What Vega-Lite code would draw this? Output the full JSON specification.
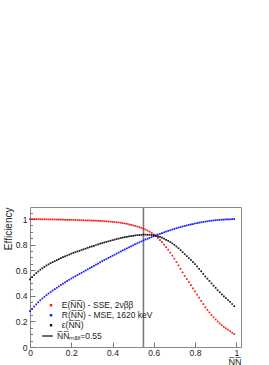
{
  "$schema": "https://vega.github.io/schema/vega-lite/v6.json",
  "autosize": "none",
  "padding": {"left": 30, "top": 207, "right": 28, "bottom": 18},
  "width": 211,
  "height": 140,
  "background": "white",
  "config": {
    "view": {"stroke": "#8a8a8a", "strokeWidth": 1},
    "axis": {"domain": false, "grid": false, "labelFont": "Liberation Sans", "labelFontSize": 8.5, "labelColor": "#222", "tickColor": "#777", "tickWidth": 1, "titleFont": "Liberation Sans", "titleFontSize": 10, "titleFontWeight": "normal", "titleColor": "#222", "labelFlush": false, "labelOverlap": false},
    "legend": {"labelFont": "Liberation Sans", "labelFontSize": 8.5, "labelColor": "#222", "rowPadding": 1, "padding": 0}
  },
  "datasets": {
    "curves": [
      {"NN":0.00,"curve":"E","eff":1.000},{"NN":0.01,"curve":"E","eff":1.000},{"NN":0.02,"curve":"E","eff":0.999},{"NN":0.03,"curve":"E","eff":0.999},{"NN":0.04,"curve":"E","eff":0.999},{"NN":0.05,"curve":"E","eff":0.999},{"NN":0.06,"curve":"E","eff":0.998},{"NN":0.07,"curve":"E","eff":0.998},{"NN":0.08,"curve":"E","eff":0.998},{"NN":0.09,"curve":"E","eff":0.997},
      {"NN":0.10,"curve":"E","eff":0.997},{"NN":0.11,"curve":"E","eff":0.997},{"NN":0.12,"curve":"E","eff":0.996},{"NN":0.13,"curve":"E","eff":0.996},{"NN":0.14,"curve":"E","eff":0.996},{"NN":0.15,"curve":"E","eff":0.995},{"NN":0.16,"curve":"E","eff":0.995},{"NN":0.17,"curve":"E","eff":0.994},{"NN":0.18,"curve":"E","eff":0.994},{"NN":0.19,"curve":"E","eff":0.994},
      {"NN":0.20,"curve":"E","eff":0.993},{"NN":0.21,"curve":"E","eff":0.993},{"NN":0.22,"curve":"E","eff":0.992},{"NN":0.23,"curve":"E","eff":0.992},{"NN":0.24,"curve":"E","eff":0.991},{"NN":0.25,"curve":"E","eff":0.991},{"NN":0.26,"curve":"E","eff":0.990},{"NN":0.27,"curve":"E","eff":0.990},{"NN":0.28,"curve":"E","eff":0.989},{"NN":0.29,"curve":"E","eff":0.989},
      {"NN":0.30,"curve":"E","eff":0.988},{"NN":0.31,"curve":"E","eff":0.987},{"NN":0.32,"curve":"E","eff":0.987},{"NN":0.33,"curve":"E","eff":0.986},{"NN":0.34,"curve":"E","eff":0.985},{"NN":0.35,"curve":"E","eff":0.984},{"NN":0.36,"curve":"E","eff":0.983},{"NN":0.37,"curve":"E","eff":0.982},{"NN":0.38,"curve":"E","eff":0.980},{"NN":0.39,"curve":"E","eff":0.979},
      {"NN":0.40,"curve":"E","eff":0.978},{"NN":0.41,"curve":"E","eff":0.976},{"NN":0.42,"curve":"E","eff":0.975},{"NN":0.43,"curve":"E","eff":0.973},{"NN":0.44,"curve":"E","eff":0.971},{"NN":0.45,"curve":"E","eff":0.968},{"NN":0.46,"curve":"E","eff":0.965},{"NN":0.47,"curve":"E","eff":0.962},{"NN":0.48,"curve":"E","eff":0.958},{"NN":0.49,"curve":"E","eff":0.954},
      {"NN":0.50,"curve":"E","eff":0.950},{"NN":0.51,"curve":"E","eff":0.946},{"NN":0.52,"curve":"E","eff":0.942},{"NN":0.53,"curve":"E","eff":0.937},{"NN":0.54,"curve":"E","eff":0.931},{"NN":0.55,"curve":"E","eff":0.925},{"NN":0.56,"curve":"E","eff":0.918},{"NN":0.57,"curve":"E","eff":0.910},{"NN":0.58,"curve":"E","eff":0.901},{"NN":0.59,"curve":"E","eff":0.891},
      {"NN":0.60,"curve":"E","eff":0.880},{"NN":0.61,"curve":"E","eff":0.867},{"NN":0.62,"curve":"E","eff":0.852},{"NN":0.63,"curve":"E","eff":0.836},{"NN":0.64,"curve":"E","eff":0.819},{"NN":0.65,"curve":"E","eff":0.800},{"NN":0.66,"curve":"E","eff":0.780},{"NN":0.67,"curve":"E","eff":0.760},{"NN":0.68,"curve":"E","eff":0.738},{"NN":0.69,"curve":"E","eff":0.714},
      {"NN":0.70,"curve":"E","eff":0.690},{"NN":0.71,"curve":"E","eff":0.664},{"NN":0.72,"curve":"E","eff":0.638},{"NN":0.73,"curve":"E","eff":0.611},{"NN":0.74,"curve":"E","eff":0.583},{"NN":0.75,"curve":"E","eff":0.555},{"NN":0.76,"curve":"E","eff":0.531},{"NN":0.77,"curve":"E","eff":0.507},{"NN":0.78,"curve":"E","eff":0.483},{"NN":0.79,"curve":"E","eff":0.459},
      {"NN":0.80,"curve":"E","eff":0.435},{"NN":0.81,"curve":"E","eff":0.410},{"NN":0.82,"curve":"E","eff":0.385},{"NN":0.83,"curve":"E","eff":0.360},{"NN":0.84,"curve":"E","eff":0.335},{"NN":0.85,"curve":"E","eff":0.310},{"NN":0.86,"curve":"E","eff":0.290},{"NN":0.87,"curve":"E","eff":0.270},{"NN":0.88,"curve":"E","eff":0.250},{"NN":0.89,"curve":"E","eff":0.232},
      {"NN":0.90,"curve":"E","eff":0.215},{"NN":0.91,"curve":"E","eff":0.199},{"NN":0.92,"curve":"E","eff":0.184},{"NN":0.93,"curve":"E","eff":0.170},{"NN":0.94,"curve":"E","eff":0.157},{"NN":0.95,"curve":"E","eff":0.146},{"NN":0.96,"curve":"E","eff":0.135},{"NN":0.97,"curve":"E","eff":0.124},{"NN":0.98,"curve":"E","eff":0.113},{"NN":0.99,"curve":"E","eff":0.102},
      {"NN":0.00,"curve":"R","eff":0.280},{"NN":0.01,"curve":"R","eff":0.298},{"NN":0.02,"curve":"R","eff":0.316},{"NN":0.03,"curve":"R","eff":0.333},{"NN":0.04,"curve":"R","eff":0.349},{"NN":0.05,"curve":"R","eff":0.365},{"NN":0.06,"curve":"R","eff":0.379},{"NN":0.07,"curve":"R","eff":0.393},{"NN":0.08,"curve":"R","eff":0.406},{"NN":0.09,"curve":"R","eff":0.418},
      {"NN":0.10,"curve":"R","eff":0.430},{"NN":0.11,"curve":"R","eff":0.441},{"NN":0.12,"curve":"R","eff":0.452},{"NN":0.13,"curve":"R","eff":0.463},{"NN":0.14,"curve":"R","eff":0.474},{"NN":0.15,"curve":"R","eff":0.485},{"NN":0.16,"curve":"R","eff":0.495},{"NN":0.17,"curve":"R","eff":0.505},{"NN":0.18,"curve":"R","eff":0.515},{"NN":0.19,"curve":"R","eff":0.525},
      {"NN":0.20,"curve":"R","eff":0.535},{"NN":0.21,"curve":"R","eff":0.544},{"NN":0.22,"curve":"R","eff":0.553},{"NN":0.23,"curve":"R","eff":0.562},{"NN":0.24,"curve":"R","eff":0.571},{"NN":0.25,"curve":"R","eff":0.580},{"NN":0.26,"curve":"R","eff":0.589},{"NN":0.27,"curve":"R","eff":0.598},{"NN":0.28,"curve":"R","eff":0.607},{"NN":0.29,"curve":"R","eff":0.616},
      {"NN":0.30,"curve":"R","eff":0.625},{"NN":0.31,"curve":"R","eff":0.634},{"NN":0.32,"curve":"R","eff":0.643},{"NN":0.33,"curve":"R","eff":0.652},{"NN":0.34,"curve":"R","eff":0.661},{"NN":0.35,"curve":"R","eff":0.670},{"NN":0.36,"curve":"R","eff":0.679},{"NN":0.37,"curve":"R","eff":0.687},{"NN":0.38,"curve":"R","eff":0.696},{"NN":0.39,"curve":"R","eff":0.704},
      {"NN":0.40,"curve":"R","eff":0.713},{"NN":0.41,"curve":"R","eff":0.721},{"NN":0.42,"curve":"R","eff":0.730},{"NN":0.43,"curve":"R","eff":0.738},{"NN":0.44,"curve":"R","eff":0.747},{"NN":0.45,"curve":"R","eff":0.755},{"NN":0.46,"curve":"R","eff":0.763},{"NN":0.47,"curve":"R","eff":0.771},{"NN":0.48,"curve":"R","eff":0.779},{"NN":0.49,"curve":"R","eff":0.787},
      {"NN":0.50,"curve":"R","eff":0.795},{"NN":0.51,"curve":"R","eff":0.803},{"NN":0.52,"curve":"R","eff":0.810},{"NN":0.53,"curve":"R","eff":0.818},{"NN":0.54,"curve":"R","eff":0.825},{"NN":0.55,"curve":"R","eff":0.833},{"NN":0.56,"curve":"R","eff":0.840},{"NN":0.57,"curve":"R","eff":0.846},{"NN":0.58,"curve":"R","eff":0.853},{"NN":0.59,"curve":"R","eff":0.859},
      {"NN":0.60,"curve":"R","eff":0.866},{"NN":0.61,"curve":"R","eff":0.872},{"NN":0.62,"curve":"R","eff":0.878},{"NN":0.63,"curve":"R","eff":0.884},{"NN":0.64,"curve":"R","eff":0.890},{"NN":0.65,"curve":"R","eff":0.896},{"NN":0.66,"curve":"R","eff":0.901},{"NN":0.67,"curve":"R","eff":0.907},{"NN":0.68,"curve":"R","eff":0.912},{"NN":0.69,"curve":"R","eff":0.918},
      {"NN":0.70,"curve":"R","eff":0.923},{"NN":0.71,"curve":"R","eff":0.928},{"NN":0.72,"curve":"R","eff":0.933},{"NN":0.73,"curve":"R","eff":0.937},{"NN":0.74,"curve":"R","eff":0.942},{"NN":0.75,"curve":"R","eff":0.946},{"NN":0.76,"curve":"R","eff":0.950},{"NN":0.77,"curve":"R","eff":0.954},{"NN":0.78,"curve":"R","eff":0.958},{"NN":0.79,"curve":"R","eff":0.961},
      {"NN":0.80,"curve":"R","eff":0.965},{"NN":0.81,"curve":"R","eff":0.968},{"NN":0.82,"curve":"R","eff":0.971},{"NN":0.83,"curve":"R","eff":0.974},{"NN":0.84,"curve":"R","eff":0.977},{"NN":0.85,"curve":"R","eff":0.980},{"NN":0.86,"curve":"R","eff":0.982},{"NN":0.87,"curve":"R","eff":0.985},{"NN":0.88,"curve":"R","eff":0.987},{"NN":0.89,"curve":"R","eff":0.989},
      {"NN":0.90,"curve":"R","eff":0.991},{"NN":0.91,"curve":"R","eff":0.992},{"NN":0.92,"curve":"R","eff":0.994},{"NN":0.93,"curve":"R","eff":0.995},{"NN":0.94,"curve":"R","eff":0.996},{"NN":0.95,"curve":"R","eff":0.997},{"NN":0.96,"curve":"R","eff":0.998},{"NN":0.97,"curve":"R","eff":0.998},{"NN":0.98,"curve":"R","eff":0.999},{"NN":0.99,"curve":"R","eff":1.000},
      {"NN":0.00,"curve":"eps","eff":0.529},{"NN":0.01,"curve":"eps","eff":0.546},{"NN":0.02,"curve":"eps","eff":0.562},{"NN":0.03,"curve":"eps","eff":0.577},{"NN":0.04,"curve":"eps","eff":0.590},{"NN":0.05,"curve":"eps","eff":0.604},{"NN":0.06,"curve":"eps","eff":0.615},{"NN":0.07,"curve":"eps","eff":0.626},{"NN":0.08,"curve":"eps","eff":0.637},{"NN":0.09,"curve":"eps","eff":0.646},
      {"NN":0.10,"curve":"eps","eff":0.655},{"NN":0.11,"curve":"eps","eff":0.663},{"NN":0.12,"curve":"eps","eff":0.671},{"NN":0.13,"curve":"eps","eff":0.679},{"NN":0.14,"curve":"eps","eff":0.687},{"NN":0.15,"curve":"eps","eff":0.695},{"NN":0.16,"curve":"eps","eff":0.702},{"NN":0.17,"curve":"eps","eff":0.709},{"NN":0.18,"curve":"eps","eff":0.715},{"NN":0.19,"curve":"eps","eff":0.722},
      {"NN":0.20,"curve":"eps","eff":0.729},{"NN":0.21,"curve":"eps","eff":0.735},{"NN":0.22,"curve":"eps","eff":0.741},{"NN":0.23,"curve":"eps","eff":0.747},{"NN":0.24,"curve":"eps","eff":0.752},{"NN":0.25,"curve":"eps","eff":0.758},{"NN":0.26,"curve":"eps","eff":0.764},{"NN":0.27,"curve":"eps","eff":0.769},{"NN":0.28,"curve":"eps","eff":0.775},{"NN":0.29,"curve":"eps","eff":0.781},
      {"NN":0.30,"curve":"eps","eff":0.786},{"NN":0.31,"curve":"eps","eff":0.791},{"NN":0.32,"curve":"eps","eff":0.797},{"NN":0.33,"curve":"eps","eff":0.802},{"NN":0.34,"curve":"eps","eff":0.807},{"NN":0.35,"curve":"eps","eff":0.812},{"NN":0.36,"curve":"eps","eff":0.817},{"NN":0.37,"curve":"eps","eff":0.821},{"NN":0.38,"curve":"eps","eff":0.826},{"NN":0.39,"curve":"eps","eff":0.830},
      {"NN":0.40,"curve":"eps","eff":0.835},{"NN":0.41,"curve":"eps","eff":0.839},{"NN":0.42,"curve":"eps","eff":0.844},{"NN":0.43,"curve":"eps","eff":0.847},{"NN":0.44,"curve":"eps","eff":0.852},{"NN":0.45,"curve":"eps","eff":0.855},{"NN":0.46,"curve":"eps","eff":0.858},{"NN":0.47,"curve":"eps","eff":0.861},{"NN":0.48,"curve":"eps","eff":0.864},{"NN":0.49,"curve":"eps","eff":0.867},
      {"NN":0.50,"curve":"eps","eff":0.869},{"NN":0.51,"curve":"eps","eff":0.872},{"NN":0.52,"curve":"eps","eff":0.874},{"NN":0.53,"curve":"eps","eff":0.875},{"NN":0.54,"curve":"eps","eff":0.876},{"NN":0.55,"curve":"eps","eff":0.878},{"NN":0.56,"curve":"eps","eff":0.878},{"NN":0.57,"curve":"eps","eff":0.877},{"NN":0.58,"curve":"eps","eff":0.877},{"NN":0.59,"curve":"eps","eff":0.875},
      {"NN":0.60,"curve":"eps","eff":0.873},{"NN":0.61,"curve":"eps","eff":0.870},{"NN":0.62,"curve":"eps","eff":0.865},{"NN":0.63,"curve":"eps","eff":0.860},{"NN":0.64,"curve":"eps","eff":0.854},{"NN":0.65,"curve":"eps","eff":0.847},{"NN":0.66,"curve":"eps","eff":0.838},{"NN":0.67,"curve":"eps","eff":0.830},{"NN":0.68,"curve":"eps","eff":0.820},{"NN":0.69,"curve":"eps","eff":0.810},
      {"NN":0.70,"curve":"eps","eff":0.798},{"NN":0.71,"curve":"eps","eff":0.785},{"NN":0.72,"curve":"eps","eff":0.772},{"NN":0.73,"curve":"eps","eff":0.757},{"NN":0.74,"curve":"eps","eff":0.741},{"NN":0.75,"curve":"eps","eff":0.725},{"NN":0.76,"curve":"eps","eff":0.710},{"NN":0.77,"curve":"eps","eff":0.695},{"NN":0.78,"curve":"eps","eff":0.680},{"NN":0.79,"curve":"eps","eff":0.664},
      {"NN":0.80,"curve":"eps","eff":0.648},{"NN":0.81,"curve":"eps","eff":0.630},{"NN":0.82,"curve":"eps","eff":0.611},{"NN":0.83,"curve":"eps","eff":0.592},{"NN":0.84,"curve":"eps","eff":0.572},{"NN":0.85,"curve":"eps","eff":0.551},{"NN":0.86,"curve":"eps","eff":0.534},{"NN":0.87,"curve":"eps","eff":0.516},{"NN":0.88,"curve":"eps","eff":0.497},{"NN":0.89,"curve":"eps","eff":0.479},
      {"NN":0.90,"curve":"eps","eff":0.462},{"NN":0.91,"curve":"eps","eff":0.444},{"NN":0.92,"curve":"eps","eff":0.428},{"NN":0.93,"curve":"eps","eff":0.411},{"NN":0.94,"curve":"eps","eff":0.395},{"NN":0.95,"curve":"eps","eff":0.382},{"NN":0.96,"curve":"eps","eff":0.367},{"NN":0.97,"curve":"eps","eff":0.352},{"NN":0.98,"curve":"eps","eff":0.336},{"NN":0.99,"curve":"eps","eff":0.319}
    ],
    "cut": [{"NN": 0.55, "label": "max"}]
  },
  "layer": [
    {
      "data": {"name": "cut"},
      "mark": {"type": "rule", "color": "#7a7a7a", "strokeWidth": 1.6},
      "encoding": {
        "x": {"field": "NN", "type": "quantitative"},
        "strokeDash": {
          "field": "label", "type": "nominal",
          "scale": {"domain": ["max"], "range": [[1, 0]]},
          "legend": {
            "title": null, "orient": "none", "legendX": 11.5, "legendY": 123,
            "symbolType": "stroke", "symbolSize": 110, "symbolStrokeWidth": 1.5, "symbolStrokeColor": "#333333",
            "labelOffset": 3.5,
            "labelExpr": "'N\u0305N\u0305\u2098\u2090\u2093=0.55'"
          }
        }
      }
    },
    {
      "data": {"name": "curves"},
      "mark": {"type": "point", "shape": "square", "filled": true, "size": 3, "opacity": 0.9},
      "encoding": {
        "x": {
          "field": "NN", "type": "quantitative",
          "scale": {"domain": [0, 1.023], "nice": false, "zero": false},
          "axis": {
            "title": "N\u0305N\u0305", "titleAnchor": "end", "titlePadding": 0, "titleFontSize": 9,
            "values": [0,0.05,0.1,0.15,0.2,0.25,0.3,0.35,0.4,0.45,0.5,0.55,0.6,0.65,0.7,0.75,0.8,0.85,0.9,0.95,1.0],
            "labelExpr": "abs(datum.value*5-round(datum.value*5))<0.001 ? format(datum.value,'~g') : ''",
            "tickSize": {"condition": {"test": "abs(datum.value*5-round(datum.value*5))<0.001", "value": -5}, "value": -2.5},
            "labelPadding": 6.5
          }
        },
        "y": {
          "field": "eff", "type": "quantitative",
          "scale": {"domain": [0, 1.094], "nice": false, "zero": false},
          "axis": {
            "title": "Efficiency", "titleAnchor": "end", "titlePadding": 2,
            "values": [0,0.05,0.1,0.15,0.2,0.25,0.3,0.35,0.4,0.45,0.5,0.55,0.6,0.65,0.7,0.75,0.8,0.85,0.9,0.95,1.0,1.05],
            "labelExpr": "abs(datum.value*5-round(datum.value*5))<0.001 ? format(datum.value,'~g') : ''",
            "tickSize": {"condition": {"test": "abs(datum.value*5-round(datum.value*5))<0.001", "value": -5}, "value": -2.5},
            "labelPadding": 8
          }
        },
        "color": {
          "field": "curve", "type": "nominal",
          "scale": {"domain": ["E", "R", "eps"], "range": ["#ff0000", "#0000ff", "#000000"]},
          "legend": {
            "title": null, "orient": "none", "legendX": 16.8, "legendY": 94,
            "labelOffset": 6.5, "symbolType": "square", "symbolSize": 6,
            "labelExpr": "datum.value=='E' ? 'E(N\u0305N\u0305) - SSE, 2\u03bd\u03b2\u03b2' : datum.value=='R' ? 'R(N\u0305N\u0305) - MSE, 1620 keV' : '\u03b5(N\u0305N\u0305)'"
          }
        }
      }
    }
  ]
}
